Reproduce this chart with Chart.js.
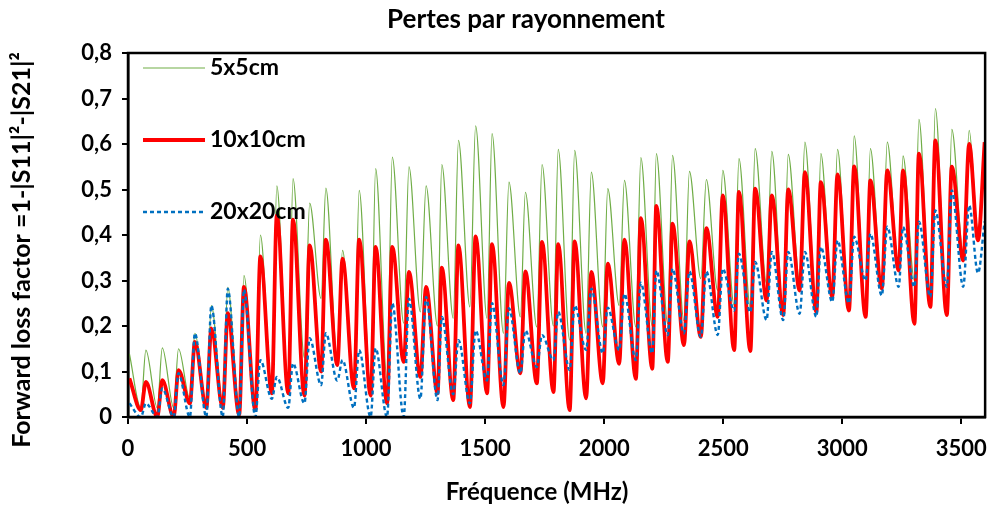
<!DOCTYPE html>
<html>
<head>
<meta charset="utf-8">
<script src="https://cdn.jsdelivr.net/npm/chart.js@4/dist/chart.umd.min.js"></script>
<style>
  html, body { margin: 0; padding: 0; background: #fff; }
</style>
</head>
<body>
<canvas id="chart" width="999" height="507"></canvas>
<script>
// frequency (MHz) of each resonance peak, and of the minimum that follows it
const peakFreq = [6, 75, 144, 212, 281, 350, 419, 487, 556, 625, 693, 763, 831, 901, 971, 1040, 1110, 1180,
  1252, 1318, 1388, 1460, 1529, 1600, 1669, 1739, 1807, 1876, 1946, 2015, 2085, 2154, 2219, 2287, 2358,
  2429, 2498, 2566, 2634, 2704, 2773, 2843, 2910, 2980, 3050, 3118, 3189, 3255, 3322, 3391, 3460, 3533, 3598];
const valleyFreq = [54, 123, 192, 260, 329, 398, 467, 535, 604, 673, 741, 811, 879, 949, 1019, 1088, 1158,
  1228, 1300, 1366, 1436, 1508, 1577, 1648, 1717, 1787, 1855, 1924, 1994, 2063, 2133, 2202, 2267, 2335,
  2406, 2477, 2546, 2614, 2682, 2752, 2821, 2891, 2958, 3028, 3098, 3166, 3237, 3303, 3370, 3439, 3508, 3570];

// 5x5cm
const peaks5 = [0.139, 0.147, 0.152, 0.15, 0.184, 0.245, 0.285, 0.311, 0.40, 0.508, 0.524, 0.47, 0.503,
  0.366, 0.498, 0.546, 0.571, 0.55, 0.508, 0.555, 0.608, 0.64, 0.623, 0.516, 0.494, 0.555, 0.588, 0.586,
  0.538, 0.502, 0.52, 0.57, 0.579, 0.575, 0.54, 0.522, 0.542, 0.568, 0.59, 0.584, 0.577, 0.604, 0.579,
  0.588, 0.618, 0.59, 0.604, 0.574, 0.654, 0.678, 0.632, 0.63, 0.61];
const valleys5 = [0.02, 0.02, 0.02, 0.04, 0.03, 0.03, 0.02, 0.02, 0.06, 0.06, 0.13, 0.26, 0.13, 0.07, 0.06,
  0.085, 0.206, 0.231, 0.2, 0.217, 0.242, 0.217, 0.184, 0.22, 0.198, 0.2, 0.169, 0.184, 0.198, 0.245, 0.198,
  0.2, 0.205, 0.212, 0.304, 0.278, 0.245, 0.24, 0.293, 0.23, 0.3, 0.235, 0.264, 0.234, 0.22, 0.286, 0.322,
  0.3, 0.242, 0.224, 0.359, 0.41];

// 10x10cm
const peaks10 = [0.085, 0.077, 0.081, 0.103, 0.165, 0.195, 0.228, 0.286, 0.353, 0.443, 0.434, 0.377, 0.39,
  0.348, 0.39, 0.374, 0.374, 0.319, 0.286, 0.328, 0.377, 0.397, 0.38, 0.295, 0.32, 0.385, 0.38, 0.386,
  0.319, 0.337, 0.39, 0.437, 0.464, 0.425, 0.386, 0.415, 0.487, 0.495, 0.502, 0.487, 0.5, 0.538, 0.516,
  0.533, 0.551, 0.52, 0.542, 0.542, 0.579, 0.608, 0.55, 0.6, 0.604];
const valleys10 = [0.015, 0, 0, 0.03, 0.02, 0.02, 0.005, 0.015, 0.052, 0.052, 0.047, 0.1, 0.114, 0.063,
  0.047, 0.03, 0.121, 0.088, 0.052, 0.037, 0.022, 0.052, 0.022, 0.096, 0.074, 0.055, 0.015, 0.041, 0.074,
  0.117, 0.084, 0.106, 0.121, 0.158, 0.176, 0.22, 0.147, 0.145, 0.256, 0.224, 0.278, 0.231, 0.264, 0.234,
  0.22, 0.282, 0.322, 0.205, 0.242, 0.224, 0.344, 0.388];

// 20x20cm
const peaks20 = [0.03, 0.03, 0.063, 0.096, 0.184, 0.245, 0.282, 0.28, 0.125, 0.088, 0.118, 0.173, 0.184,
  0.125, 0.147, 0.151, 0.25, 0.26, 0.264, 0.22, 0.169, 0.19, 0.25, 0.239, 0.19, 0.18, 0.231, 0.245, 0.282,
  0.24, 0.271, 0.295, 0.322, 0.326, 0.32, 0.32, 0.326, 0.359, 0.341, 0.363, 0.363, 0.363, 0.374, 0.388,
  0.396, 0.403, 0.418, 0.418, 0.429, 0.454, 0.498, 0.465, 0.43];
const valleys20 = [0, 0, 0, 0, 0, 0, 0, 0, 0.04, 0.02, 0.03, 0.07, 0.08, 0.02, 0, 0, 0, 0.04, 0.037, 0.05,
  0.03, 0.08, 0.07, 0.096, 0.11, 0.125, 0.103, 0.147, 0.14, 0.147, 0.125, 0.14, 0.18, 0.184, 0.176, 0.18,
  0.234, 0.23, 0.213, 0.213, 0.227, 0.22, 0.253, 0.25, 0.3, 0.267, 0.286, 0.286, 0.264, 0.286, 0.286, 0.316];

const seriesNames = ['5x5cm', '10x10cm', '20x20cm'];
const xTicks = [0, 500, 1000, 1500, 2000, 2500, 3000, 3500];

const FONT = 'Lato';

// peak, valley, peak, valley ... in frequency order
function buildPoints(peaks, valleys) {
  let pts = [];
  for (let i = 0; i < peakFreq.length; i++) {
    pts.push({ x: peakFreq[i], y: peaks[i] });
    if (i < valleyFreq.length)
      pts.push({ x: valleyFreq[i], y: valleys[i] });
  }
  return pts;
}

// frame, legend inside the plot and the titles
const decor = {
  id: 'decor',
  afterDraw(chart) {
    const ctx = chart.ctx;
    const a = chart.chartArea;
    ctx.save();
    ctx.strokeStyle = '#000';
    ctx.lineWidth = 2.5;
    ctx.strokeRect(a.left, a.top, a.right - a.left, a.bottom - a.top);

    ctx.fillStyle = '#000';
    ctx.textAlign = 'center';
    ctx.textBaseline = 'middle';
    ctx.font = 'bold 26px ' + FONT;
    ctx.fillText('Pertes par rayonnement', 526, 20);
    ctx.font = 'bold 24px ' + FONT;
    ctx.fillText('Fréquence (MHz)', 537, 492);

    ctx.save();
    ctx.translate(22, 250);
    ctx.rotate(-Math.PI / 2);
    ctx.font = 'bold 25px ' + FONT;
    ctx.fillText('Forward loss factor =1-|S11|²-|S21|²', 0, 0);
    ctx.restore();

    // legend
    ctx.textAlign = 'left';
    ctx.font = 'bold 23px ' + FONT;
    chart.data.datasets.forEach((ds, i) => {
      const y = a.top + 15 + i * 72;
      ctx.beginPath();
      ctx.strokeStyle = ds.borderColor;
      ctx.lineWidth = ds.borderWidth;
      ctx.setLineDash(ds.borderDash || []);
      ctx.moveTo(a.left + 15, y);
      ctx.lineTo(a.left + 77, y);
      ctx.stroke();
      ctx.setLineDash([]);
      ctx.fillStyle = '#000';
      ctx.fillText(ds.label, a.left + 82, y);
    });
    ctx.restore();
  }
};

const ctx = document.getElementById('chart').getContext('2d');
const chart = new Chart(ctx, {
  type: 'line',
  data: {
    datasets: [
      {
        label: seriesNames[0],
        data: buildPoints(peaks5, valleys5),
        borderColor: '#70AD47',
        borderWidth: 1.2,
        order: 3
      },
      {
        label: seriesNames[1],
        data: buildPoints(peaks10, valleys10),
        borderColor: '#FF0000',
        borderWidth: 3.8,
        order: 2
      },
      {
        label: seriesNames[2],
        data: buildPoints(peaks20, valleys20),
        borderColor: '#0070C0',
        borderWidth: 2.4,
        borderDash: [4, 3],
        order: 1
      }
    ]
  },
  options: {
    responsive: false,
    animation: false,
    events: [],
    layout: { padding: { top: 53, right: 6, left: 0, bottom: 0 } },
    elements: {
      point: { radius: 0 },
      line: { cubicInterpolationMode: 'monotone', fill: false }
    },
    plugins: {
      legend: { display: false },
      title: { display: false },
      tooltip: { enabled: false }
    },
    scales: {
      x: {
        type: 'linear',
        min: 0,
        max: 3600,
        afterFit: (s) => { s.height = 90; },
        afterBuildTicks: (s) => { s.ticks = xTicks.map(v => ({ value: v })); },
        grid: { drawOnChartArea: false, drawTicks: true, tickLength: 7, color: '#000', lineWidth: 2 },
        border: { display: true, color: '#000', width: 2.5 },
        ticks: {
          color: '#000',
          padding: 12,
          maxRotation: 0,
          font: { family: FONT, size: 22, weight: 'bold' },
          callback: (v) => String(v)
        }
      },
      y: {
        min: 0,
        max: 0.8,
        afterFit: (s) => { s.width = 128; },
        grid: { drawOnChartArea: false, drawTicks: true, tickLength: 6, color: '#000', lineWidth: 2 },
        border: { display: true, color: '#000', width: 2.5 },
        ticks: {
          stepSize: 0.1,
          color: '#000',
          padding: 10,
          font: { family: FONT, size: 22, weight: 'bold' },
          callback: (v) => v === 0 ? '0' : v.toFixed(1).replace('.', ',')
        }
      }
    }
  },
  plugins: [decor]
});
</script>
</body>
</html>
